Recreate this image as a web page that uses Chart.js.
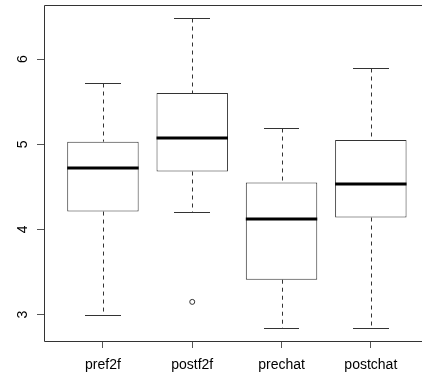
<!DOCTYPE html>
<html>
<head>
<meta charset="utf-8">
<script src="https://cdn.jsdelivr.net/npm/chart.js@4.4.1/dist/chart.umd.min.js"></script>
<style>
  html, body { margin: 0; padding: 0; background: #fff; }
</style>
</head>
<body>
<canvas id="myChart" width="422" height="379"></canvas>
<script>
// box statistics
const categories = ["pref2f", "postf2f", "prechat", "postchat"];
const lowerWhisker = [3.0, 4.21, 2.84, 2.84];
const q1 = [4.21, 4.68, 3.41, 4.14];
const medians = [4.72, 5.07, 4.12, 4.53];
const q3 = [5.03, 5.6, 4.55, 5.05];
const upperWhisker = [5.72, 6.48, 5.19, 5.9];
const outlierGroup = [2];
const outlierValue = [3.15];
const yTicks = [3, 4, 5, 6];

const lineColor = "#333";

// no extra padding around the axes, so the plot box lands where R puts it
function zeroPadding(scale) {
  scale.paddingLeft = 0;
  scale.paddingRight = 0;
  scale.paddingTop = 0;
  scale.paddingBottom = 0;
}

// whiskers, staples, medians and the frame (R boxplot style)
const boxExtras = {
  id: "boxExtras",
  beforeDatasetsDraw(chart) {
    const { ctx, scales: { x, y } } = chart;
    ctx.save();
    ctx.strokeStyle = lineColor;
    ctx.lineWidth = 1;
    categories.forEach((c, i) => {
      const cx = Math.round(x.getPixelForValue(i + 1)) + 0.5;
      const sl = Math.round(x.getPixelForValue(i + 1 - 0.2));
      const sr = Math.round(x.getPixelForValue(i + 1 + 0.2));
      const yUp = Math.round(y.getPixelForValue(upperWhisker[i])) + 0.5;
      const yQ3 = y.getPixelForValue(q3[i]);
      const yQ1 = y.getPixelForValue(q1[i]);
      const yLo = Math.round(y.getPixelForValue(lowerWhisker[i])) + 0.5;
      ctx.setLineDash([4, 4]);
      ctx.beginPath();
      ctx.moveTo(cx, yUp);
      ctx.lineTo(cx, yQ3);
      ctx.moveTo(cx, yQ1);
      ctx.lineTo(cx, yLo);
      ctx.stroke();
      ctx.setLineDash([]);
      ctx.beginPath();
      ctx.moveTo(sl, yUp);
      ctx.lineTo(sr, yUp);
      ctx.moveTo(sl, yLo);
      ctx.lineTo(sr, yLo);
      ctx.stroke();
    });
    ctx.restore();
  },
  afterDatasetsDraw(chart) {
    const { ctx, chartArea, scales: { x, y } } = chart;
    ctx.save();
    ctx.strokeStyle = "#000";
    ctx.lineWidth = 3;
    categories.forEach((c, i) => {
      const ym = Math.round(y.getPixelForValue(medians[i]));
      ctx.beginPath();
      ctx.moveTo(x.getPixelForValue(i + 1 - 0.4), ym);
      ctx.lineTo(x.getPixelForValue(i + 1 + 0.4), ym);
      ctx.stroke();
    });
    // frame: top, left, bottom (right side falls outside the picture)
    ctx.strokeStyle = lineColor;
    ctx.lineWidth = 1;
    const l = Math.round(chartArea.left) + 0.5;
    const t = Math.round(chartArea.top) + 0.5;
    const b = Math.round(chartArea.bottom) + 0.5;
    ctx.beginPath();
    ctx.moveTo(chartArea.right, t);
    ctx.lineTo(l, t);
    ctx.lineTo(l, b);
    ctx.lineTo(chartArea.right, b);
    ctx.stroke();
    ctx.restore();
  }
};

const ctx = document.getElementById("myChart");
const myChart = new Chart(ctx, {
  type: "bar",
  data: {
    datasets: [
      {
        data: categories.map((c, i) => ({ x: i + 1, y: [q1[i], q3[i]] })),
        backgroundColor: "#fff",
        borderColor: lineColor,
        borderWidth: 1,
        borderSkipped: false,
        categoryPercentage: 0.8,
        barPercentage: 1.0
      },
      {
        type: "scatter",
        data: outlierGroup.map((g, i) => ({ x: g, y: outlierValue[i] })),
        pointRadius: 2.5,
        pointHoverRadius: 2.5,
        pointBackgroundColor: "#fff",
        pointBorderColor: lineColor,
        pointBorderWidth: 1
      }
    ]
  },
  options: {
    responsive: false,
    animation: false,
    layout: { autoPadding: false, padding: { top: 5, right: 0, left: 0, bottom: 0 } },
    plugins: {
      legend: { display: false },
      tooltip: { enabled: false }
    },
    scales: {
      x: {
        type: "linear",
        min: 0.34,
        max: 4.573,
        offset: false,
        afterFit(scale) {
          scale.height = 38;
          zeroPadding(scale);
        },
        afterBuildTicks(scale) {
          scale.ticks = categories.map((c, i) => ({ value: i + 1 }));
        },
        grid: { drawOnChartArea: false, drawTicks: true, tickLength: 7, color: "#555", offset: false },
        border: { display: false },
        ticks: {
          padding: 9,
          color: "#000",
          font: { family: "Liberation Sans", size: 14 },
          maxRotation: 0,
          autoSkip: false,
          callback: (v) => categories[v - 1]
        }
      },
      y: {
        min: 2.691,
        max: 6.634,
        afterFit(scale) {
          scale.width = 44;
          zeroPadding(scale);
        },
        afterBuildTicks(scale) {
          scale.ticks = yTicks.map((v) => ({ value: v }));
        },
        grid: { drawOnChartArea: false, drawTicks: true, tickLength: 7, color: "#555" },
        border: { display: false },
        ticks: {
          padding: 10,
          color: "#000",
          crossAlign: "center",
          minRotation: 90,
          maxRotation: 90,
          font: { family: "Liberation Sans", size: 14 }
        }
      }
    }
  },
  plugins: [boxExtras]
});
</script>
</body>
</html>
